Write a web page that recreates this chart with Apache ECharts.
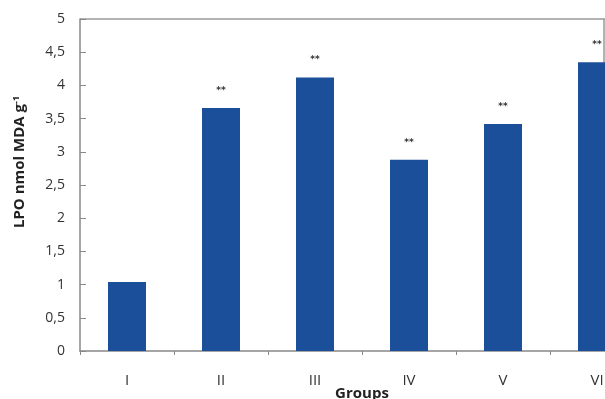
<!DOCTYPE html>
<html>
<head>
<meta charset="utf-8">
<script src="https://cdn.jsdelivr.net/npm/echarts@6/dist/echarts.min.js"></script>
<style>html,body{margin:0;padding:0;background:#fff}#c{width:605px;height:399px}</style>
</head>
<body>
<div id="c"></div>
<script>
const categories = ['I', 'II', 'III', 'IV', 'V', 'VI'];
const lpoValues = [1.04, 3.66, 4.12, 2.88, 3.42, 4.35];
const sigMarks = ['', '**', '**', '**', '**', '**'];
const yTicks = [0, 0.5, 1, 1.5, 2, 2.5, 3, 3.5, 4, 4.5, 5];

const chart = echarts.init(document.getElementById('c'), null, {renderer: 'canvas'});
chart.setOption({
  animation: false,
  backgroundColor: '#fff',
  grid: {left: 80, top: 19, width: 564, height: 332, outerBoundsMode: 'none', containLabel: false},
  xAxis: {
    type: 'category',
    data: categories,
    name: 'Groups',
    nameLocation: 'middle',
    nameGap: 35,
    nameMoveOverlap: false,
    nameTextStyle: {fontFamily: 'Open Sans', fontWeight: 'bold', fontSize: 15, color: '#222'},
    axisLine: {lineStyle: {color: '#888', width: 1.5}},
    axisTick: {show: true, length: 4, lineStyle: {color: '#888'}},
    axisLabel: {fontFamily: 'Open Sans', fontSize: 15, color: '#333', margin: 22}
  },
  yAxis: {
    type: 'value',
    min: yTicks[0],
    max: yTicks[yTicks.length - 1],
    interval: 0.5,
    axisLine: {show: true, lineStyle: {color: '#888', width: 1.5}},
    axisTick: {show: true, inside: true, length: 6, lineStyle: {color: '#888'}},
    splitLine: {show: false},
    axisLabel: {
      fontFamily: 'Open Sans', fontSize: 14, color: '#333', margin: 15,
      formatter: v => String(v).replace('.', ',')
    }
  },
  series: [{
    type: 'bar',
    data: lpoValues,
    barWidth: 38,
    itemStyle: {color: '#1b4f99'},
    label: {
      show: true,
      position: 'top',
      distance: 13,
      fontFamily: 'DejaVu Sans',
      fontSize: 9,
      fontWeight: 'bold',
      color: '#333',
      formatter: p => sigMarks[p.dataIndex]
    }
  }],
  graphic: [
    {type: 'line', shape: {x1: 80, y1: 19, x2: 605, y2: 19}, style: {stroke: '#999', lineWidth: 1.5}, silent: true},
    {type: 'line', shape: {x1: 604, y1: 19, x2: 604, y2: 351}, style: {stroke: '#999', lineWidth: 1.5}, silent: true},
    {
      type: 'text',
      x: 20, y: 162,
      rotation: Math.PI / 2,
      style: {
        text: 'LPO nmol MDA g{sup|-1}',
        fill: '#222',
        font: 'bold 15px "Open Sans"',
        textAlign: 'center',
        textVerticalAlign: 'middle',
        rich: {sup: {fontSize: 9, fontWeight: 'bold', fontFamily: 'Open Sans', fill: '#222', verticalAlign: 'top', padding: [0, 0, 8, 0]}}
      }
    }
  ]
});
</script>
</body>
</html>
